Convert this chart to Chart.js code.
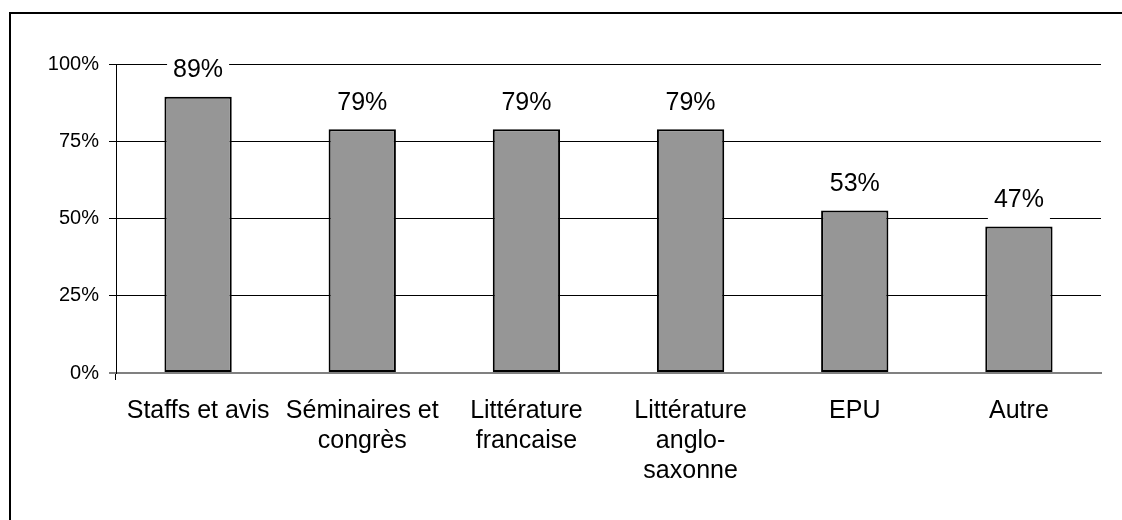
<!DOCTYPE html>
<html>
<head>
<meta charset="utf-8">
<script src="https://cdn.jsdelivr.net/npm/chart.js@4"></script>
<style>
  body { margin: 0; background: #fff; }
  canvas { display: block; }
</style>
</head>
<body>
<canvas id="chart" width="1122" height="520"></canvas>
<script>
const categories = [
  ['Staffs et avis'],
  ['Séminaires et', 'congrès'],
  ['Littérature', 'francaise'],
  ['Littérature', 'anglo-', 'saxonne'],
  ['EPU'],
  ['Autre']
]
const shares = [89.4, 78.9, 78.9, 78.9, 52.6, 47.4]
const yTicks = [0, 25, 50, 75, 100]

const font = '"Liberation Sans", Arial, sans-serif'

// outer frame round the whole chart
const frame = {
  id: 'frame',
  beforeDraw(chart) {
    const ctx = chart.ctx
    ctx.save()
    ctx.fillStyle = '#fff'
    ctx.fillRect(0, 0, chart.width, chart.height)
    ctx.strokeStyle = '#000'
    ctx.lineWidth = 2
    ctx.strokeRect(10, 13, chart.width + 20, chart.height + 20)
    ctx.restore()
  }
}

// value labels on a white box above each bar
const valueLabels = {
  id: 'valueLabels',
  afterDatasetsDraw(chart) {
    const ctx = chart.ctx
    const meta = chart.getDatasetMeta(0)
    ctx.save()
    ctx.font = '25px ' + font
    ctx.textAlign = 'center'
    ctx.textBaseline = 'alphabetic'
    meta.data.forEach((bar, i) => {
      const text = Math.round(shares[i]) + '%'
      const base = bar.y - 19.5
      const w = ctx.measureText(text).width + 12
      ctx.fillStyle = '#fff'
      ctx.fillRect(bar.x - w / 2, base - 27, w, 41)
      ctx.fillStyle = '#000'
      ctx.fillText(text, bar.x, base)
    })
    ctx.restore()
  }
}

new Chart(document.getElementById('chart'), {
  type: 'bar',
  data: {
    labels: categories,
    datasets: [{
      data: shares,
      backgroundColor: '#969696',
      borderColor: '#000',
      borderWidth: 2,
      borderSkipped: false,
      categoryPercentage: 1,
      barPercentage: 0.41
    }]
  },
  options: {
    responsive: false,
    animation: false,
    layout: { padding: { left: 12, top: 64, right: 21, bottom: 0 } },
    plugins: {
      legend: { display: false },
      tooltip: { enabled: false }
    },
    scales: {
      x: {
        afterFit: scale => { scale.height = 147 },
        grid: {
          drawOnChartArea: false,
          tickLength: 7,
          color: c => c.index === 0 ? '#000' : 'rgba(0,0,0,0)'
        },
        border: { color: '#808080', width: 2 },
        ticks: {
          color: '#000',
          padding: 16,
          maxRotation: 0,
          autoSkip: false,
          font: { family: font, size: 25, lineHeight: 1.2 }
        }
      },
      y: {
        min: 0,
        max: 100,
        afterFit: scale => { scale.width = 104 },
        afterBuildTicks: scale => { scale.ticks = yTicks.map(v => ({ value: v })) },
        grid: {
          tickLength: 7,
          lineWidth: c => c.tick && c.tick.value === 0 ? 2 : 1,
          color: c => c.tick && c.tick.value === 0 ? '#808080' : '#000'
        },
        border: { color: '#000', width: 1 },
        ticks: {
          color: '#000',
          padding: 10,
          font: { family: font, size: 20 },
          callback: v => v + '%'
        }
      }
    }
  },
  plugins: [frame, valueLabels]
})
</script>
</body>
</html>
